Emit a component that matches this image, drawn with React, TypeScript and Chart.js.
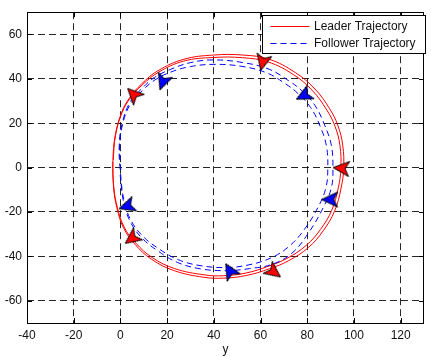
import React, { useEffect, useRef } from "react";
import { Chart, registerables } from "chart.js";
Chart.register(...registerables);

const xTicks = [-40, -20, 0, 20, 40, 60, 80, 100, 120];
const yTicks = [-60, -40, -20, 0, 20, 40, 60];
const xLabel = "y";
const seriesNames = ["Leader Trajectory", "Follower Trajectory"];

// Leader trajectory (two laps)
const leaderX = [
  -3.3, -2.9, -1.5, 1.3, 6.2, 13.2, 23.0, 35.7, 44.1, 53.9, 63.7, 72.1, 80.5, 86.8, 91.7, 94.5, 95.6, 95.2, 93.1, 89.6, 83.3, 74.9, 63.7, 52.5, 39.8, 27.2, 16.0, 9.0, 4.1, 0.6, -2.2,
  -3.2, -2.8, -1.3, 1.6, 6.6, 13.6, 23.3, 35.8, 44.2, 53.7, 63.2, 71.3, 79.5, 85.7, 90.5, 93.3, 94.4, 94.0, 91.9, 88.4, 82.3, 74.2, 63.2, 52.2, 39.8, 27.2, 16.4, 9.3, 4.3, 0.7, -2.1, -3.1,
];
const leaderY = [
  2.7, -9.2, -18.1, -27.1, -34.5, -41.2, -46.4, -49.4, -49.8, -48.6, -45.6, -41.9, -36.0, -28.5, -19.6, -9.2, -0.3, 10.1, 19.0, 26.5, 35.4, 42.8, 48.8, 50.7, 50.7, 48.8, 43.6, 37.6, 31.7, 25.0, 14.6,
  2.7, -9.1, -17.9, -26.8, -34.0, -40.5, -45.5, -48.3, -48.7, -47.5, -44.5, -40.9, -35.1, -27.8, -19.2, -9.1, -0.3, 10.0, 18.6, 25.9, 34.6, 41.8, 47.6, 49.5, 49.6, 48.0, 43.0, 37.2, 31.4, 24.8, 14.5, 3.5,
];

// Follower trajectory (two laps)
const followerX = [
  -0.1, 1.3, 4.1, 9.0, 16.0, 24.4, 34.3, 45.5, 55.3, 65.1, 73.5, 80.5, 86.8, 90.3, 91.0, 90.3, 87.5, 83.3, 77.7, 72.1, 63.7, 52.5, 39.8, 30.0, 21.6, 14.6, 9.0, 4.1, 0.9, -0.5,
  0.1, 1.6, 4.5, 9.5, 16.5, 24.8, 34.5, 45.5, 55.0, 64.2, 72.2, 79.0, 84.8, 88.0, 88.8, 88.2, 85.6, 81.5, 76.0, 70.6, 62.8, 52.0, 40.0, 30.0, 21.5, 14.8, 9.3, 4.4, 1.1, -0.3, 0.2,
];
const followerY = [
  -3.3, -15.2, -24.1, -31.5, -37.5, -42.7, -45.6, -46.4, -45.5, -43.5, -38.5, -29.5, -18.1, -9.2, -0.3, 10.1, 19.0, 28.0, 34.6, 39.1, 44.3, 47.3, 48.5, 47.3, 44.3, 40.6, 35.4, 29.4, 20.5, 10.1,
  -3.3, -15.0, -23.7, -30.8, -36.6, -41.5, -44.2, -45.0, -43.8, -40.8, -35.5, -27.5, -17.5, -9.0, -0.3, 9.8, 18.4, 27.0, 33.4, 37.8, 42.6, 45.6, 46.5, 45.5, 43.0, 39.5, 34.6, 28.8, 20.2, 10.0, -2.0,
];

// Heading markers
const leaderArrowX = [60.9, 5.5, 4.8, 65.8, 94.5];
const leaderArrowY = [47.3, 33.1, -32.0, -47.1, -0.3];
const leaderArrowAngle = [103, 225, 143, 37, 185];
const followerArrowX = [18.1, 78.4, 89.6, 46.8, 2.7];
const followerArrowY = [38.4, 32.4, -14.4, -46.4, -17.4];
const followerArrowAngle = [110, 153, 180, 240, 162];

const FONT = "'Liberation Sans', Arial, sans-serif";

function makeDart(fill: string): HTMLCanvasElement {
  const c = document.createElement("canvas");
  c.width = 26;
  c.height = 26;
  const g = c.getContext("2d")!;
  g.beginPath();
  g.moveTo(21, 13);
  g.lineTo(5, 5.5);
  g.lineTo(9, 13);
  g.lineTo(5, 20.5);
  g.closePath();
  g.fillStyle = fill;
  g.fill();
  g.strokeStyle = "#000";
  g.lineWidth = 1;
  g.stroke();
  return c;
}

const framePlugin = {
  id: "frame",
  afterDraw(chart: any) {
    const { ctx, chartArea: a, scales } = chart;
    const xs = scales.x, ys = scales.y;
    ctx.save();
    ctx.strokeStyle = "#000";
    ctx.lineWidth = 1;
    ctx.setLineDash([]);
    ctx.beginPath();
    for (const v of xTicks) {
      const p = Math.round(xs.getPixelForValue(v)) + 0.5;
      ctx.moveTo(p, a.bottom);
      ctx.lineTo(p, a.bottom - 5);
      ctx.moveTo(p, a.top);
      ctx.lineTo(p, a.top + 5);
    }
    for (const v of yTicks) {
      const p = Math.round(ys.getPixelForValue(v)) + 0.5;
      ctx.moveTo(a.left, p);
      ctx.lineTo(a.left + 5, p);
      ctx.moveTo(a.right, p);
      ctx.lineTo(a.right - 5, p);
    }
    ctx.stroke();
    ctx.strokeRect(Math.round(a.left) + 0.5, Math.round(a.top) + 0.5, Math.round(a.right - a.left) - 1, Math.round(a.bottom - a.top));

    // legend
    const lx = 262.5, ly = 15.5, lw = 163, lh = 38;
    ctx.fillStyle = "#fff";
    ctx.fillRect(lx, ly, lw, lh);
    ctx.strokeStyle = "#000";
    ctx.strokeRect(lx, ly, lw, lh);
    const rows = [26, 43];
    const colors = ["#ff0000", "#0000ff"];
    const dashes = [[], [6, 4]];
    for (let i = 0; i < 2; i++) {
      ctx.beginPath();
      ctx.strokeStyle = colors[i];
      ctx.setLineDash(dashes[i]);
      ctx.moveTo(270.5, rows[i] + 0.5);
      ctx.lineTo(309.5, rows[i] + 0.5);
      ctx.stroke();
      ctx.setLineDash([]);
      ctx.fillStyle = "#111";
      ctx.font = `12px ${FONT}`;
      ctx.textBaseline = "middle";
      ctx.textAlign = "left";
      ctx.fillText(seriesNames[i], 314, rows[i] + 0.5);
    }
    ctx.restore();
  },
};

export default function App() {
  const ref = useRef<HTMLCanvasElement>(null);
  useEffect(() => {
    if (!ref.current) return;
    const toPts = (xs: number[], ys: number[]) => xs.map((x, i) => ({ x, y: ys[i] }));
    const chart = new Chart(ref.current, {
      type: "scatter",
      data: {
        datasets: [
          {
            label: "leader heading",
            data: toPts(leaderArrowX, leaderArrowY),
            pointStyle: makeDart("#ff0000") as any,
            rotation: leaderArrowAngle as any,
            pointRadius: 6,
            showLine: false,
            order: 0,
          },
          {
            label: "follower heading",
            data: toPts(followerArrowX, followerArrowY),
            pointStyle: makeDart("#0000ff") as any,
            rotation: followerArrowAngle as any,
            pointRadius: 6,
            showLine: false,
            order: 0,
          },
          {
            label: seriesNames[0],
            data: toPts(leaderX, leaderY),
            showLine: true,
            borderColor: "#ff0000",
            borderWidth: 1,
            pointRadius: 0,
            tension: 0.4,
            order: 2,
          },
          {
            label: seriesNames[1],
            data: toPts(followerX, followerY),
            showLine: true,
            borderColor: "#0000ff",
            borderWidth: 1,
            borderDash: [6, 4],
            pointRadius: 0,
            tension: 0.4,
            order: 1,
          },
        ],
      },
      options: {
        animation: false,
        responsive: false,
        devicePixelRatio: 1,
        layout: { padding: { top: 9, right: 1, left: 0, bottom: 0 } },
        plugins: { legend: { display: false }, tooltip: { enabled: false } },
        scales: {
          x: {
            type: "linear",
            min: -40,
            max: 130,
            afterBuildTicks: (s: any) => {
              s.ticks = xTicks.map((v) => ({ value: v }));
            },
            afterFit: (s: any) => {
              s.height = 33;
            },
            grid: { color: "rgba(0,0,0,0.85)", drawTicks: false },
            border: { display: false, dash: [7, 4] },
            ticks: { color: "#111", font: { family: FONT, size: 12 }, padding: 5, maxRotation: 0 },
            title: { display: true, text: xLabel, color: "#111", font: { family: FONT, size: 12, lineHeight: 1 }, padding: 0 },
          },
          y: {
            type: "linear",
            min: -70,
            max: 70,
            afterBuildTicks: (s: any) => {
              s.ticks = yTicks.map((v) => ({ value: v }));
            },
            afterFit: (s: any) => {
              s.width = 27;
            },
            grid: { color: "rgba(0,0,0,0.85)", drawTicks: false },
            border: { display: false, dash: [7, 4] },
            ticks: { color: "#111", font: { family: FONT, size: 12 }, padding: 5 },
          },
        },
      },
      plugins: [framePlugin],
    });
    return () => chart.destroy();
  }, []);
  return (
    <div style={{ position: "absolute", left: 0, top: 0, width: 431, height: 356, background: "#fff" }}>
      <canvas ref={ref} width={431} height={356} />
    </div>
  );
}
